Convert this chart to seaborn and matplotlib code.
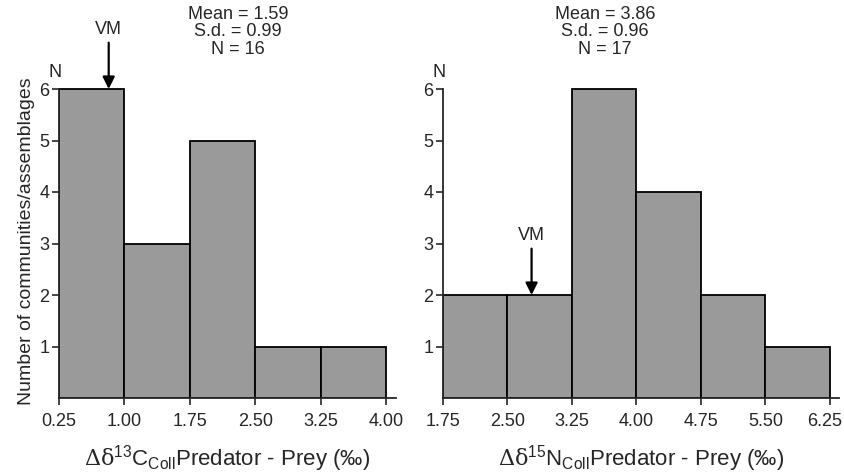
import matplotlib
matplotlib.use("Agg")
import matplotlib.pyplot as plt
import matplotlib.transforms as mtransforms
import numpy as np
import pandas as pd
import seaborn as sns

# bin edges and counts
c_edges = [0.25, 1.00, 1.75, 2.50, 3.25, 4.00]
c_counts = [6, 3, 5, 1, 1]
n_edges = [1.75, 2.50, 3.25, 4.00, 4.75, 5.50, 6.25]
n_counts = [2, 2, 6, 4, 2, 1]

# vm markers (x position) and summary stats per panel
c_vm = 0.82
n_vm = 2.78
c_stats = ["Mean = 1.59", "S.d. = 0.99", "N = 16"]
n_stats = ["Mean = 3.86", "S.d. = 0.96", "N = 17"]

c_xlabel = r"$\mathrm{\Delta\delta}^{\mathsf{13}}$C$_{\mathsf{Coll}}$Predator - Prey (‰)"
n_xlabel = r"$\mathrm{\Delta\delta}^{\mathsf{15}}$N$_{\mathsf{Coll}}$Predator - Prey (‰)"
ylabel = "Number of communities/assemblages"

sns.set_style("ticks")
plt.rcParams['font.family'] = ['Liberation Sans', 'DejaVu Sans']
plt.rcParams['mathtext.fontset'] = 'custom'
plt.rcParams['mathtext.rm'] = 'DejaVu Serif'
plt.rcParams['mathtext.it'] = 'DejaVu Serif:italic'
plt.rcParams['mathtext.sf'] = 'Liberation Sans'

W, H = 845, 474
fig = plt.figure(figsize=(W / 100, H / 100), dpi=100)

ymax = 6.1
unit = 51.5  # px per count
ax_h = ymax * unit / H
ax_b = (H - 398) / H
ax1 = fig.add_axes([59 / W, ax_b, 337 / W, ax_h])
ax2 = fig.add_axes([443 / W, ax_b, 396 / W, ax_h])


def draw_hist(ax, edges, counts, xmax, vm, stats, xlabel, stat_x):
    e = np.array(edges)
    df = pd.DataFrame({'x': (e[:-1] + e[1:]) / 2, 'n': counts})
    # weighted histogram so every bar comes from the counts list
    sns.histplot(data=df, x='x', weights='n', bins=list(edges), color='#9a9a9a',
                 edgecolor='black', linewidth=1.3, alpha=1, ax=ax)
    ax.set_xlim(edges[0], xmax)
    ax.set_ylim(0, ymax)
    ax.set_xticks(edges)
    ax.set_xticklabels([f"{v:.2f}" for v in edges], fontsize=13)
    ax.set_yticks([1, 2, 3, 4, 5, 6])
    ax.set_yticklabels([str(v) for v in range(1, 7)], fontsize=13)
    ax.tick_params(axis='x', direction='out', length=5, width=1.2, pad=6)
    ax.tick_params(axis='y', direction='out', length=5, width=1.2, pad=2)
    for s in ['top', 'right']:
        ax.spines[s].set_visible(False)
    ax.spines['left'].set_bounds(0, 6)
    ax.spines['left'].set_linewidth(1.3)
    ax.spines['bottom'].set_linewidth(1.3)
    ax.set_ylabel("")
    ax.set_xlabel(xlabel, fontsize=16, labelpad=9)
    # "N" above the y axis
    ax.annotate("N", xy=(0, 6), xycoords=('axes fraction', 'data'),
                xytext=(-3, 12), textcoords='offset points',
                ha='center', va='center', fontsize=13, annotation_clip=False)
    # VM arrow onto the bar top
    top = counts[int(np.searchsorted(e, vm)) - 1]
    ax.annotate("", xy=(vm, top), xytext=(vm, top + 0.9),
                arrowprops=dict(arrowstyle='-|>', color='black', lw=1.6,
                                mutation_scale=18, shrinkA=0, shrinkB=0),
                annotation_clip=False)
    ax.text(vm, top + 1.15, "VM", ha='center', va='center', fontsize=13, clip_on=False)
    fig.text(stat_x / W, 1 - 32 / H, "\n".join(stats), ha='center', va='center',
             fontsize=13, linespacing=1.02)


draw_hist(ax1, c_edges, c_counts, 4.115, c_vm, c_stats, c_xlabel, 238)
draw_hist(ax2, n_edges, n_counts, 6.355, n_vm, n_stats, n_xlabel, 605)
ax1.set_ylabel(ylabel, fontsize=14, labelpad=3)

# nudge the last right-hand tick label so it stays inside the figure
last = ax2.get_xticklabels()[-1]
last.set_transform(last.get_transform() + mtransforms.ScaledTranslation(-5 / 100, 0, fig.dpi_scale_trans))

fig.savefig("out.png", dpi=100)
